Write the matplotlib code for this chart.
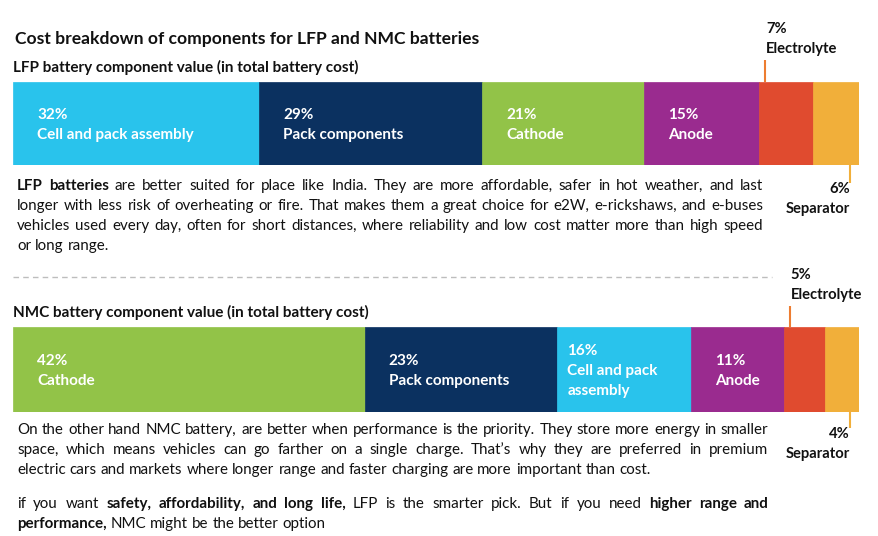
import matplotlib
matplotlib.use("Agg")
import matplotlib.pyplot as plt

plt.rcParams['font.family'] = ['Lato', 'DejaVu Sans']

W, H = 879, 536

# data
title = "Cost breakdown of components for LFP and NMC batteries"
lfp_title = "LFP battery component value (in total battery cost)"
nmc_title = "NMC battery component value (in total battery cost)"

lfp_parts = ["Cell and pack assembly", "Pack components", "Cathode", "Anode", "Electrolyte", "Separator"]
lfp_values = [32, 29, 21, 15, 7, 6]
lfp_colors = ["#29C3EC", "#0B3160", "#92C348", "#9A2B8F", "#E04B2F", "#F1AF3A"]

nmc_parts = ["Cathode", "Pack components", "Cell and pack\nassembly", "Anode", "Electrolyte", "Separator"]
nmc_values = [42, 23, 16, 11, 5, 4]
nmc_colors = ["#92C348", "#0B3160", "#29C3EC", "#9A2B8F", "#E04B2F", "#F1AF3A"]

lfp_text = [
    [("LFP batteries", True), (" are better suited for place like India. They are more affordable, safer in hot weather, and last", False)],
    [("longer with less risk of overheating or fire. That makes them a great choice for e2W, e-rickshaws, and e-buses", False)],
    [("vehicles used every day, often for short distances, where reliability and low cost matter more than high speed", False)],
    [("or long range.", False)],
]
nmc_text = [
    [("On the other hand NMC battery, are better when performance is the priority. They store more energy in smaller", False)],
    [("space, which means vehicles can go farther on a single charge. That\u2019s why they are preferred in premium", False)],
    [("electric cars and markets where longer range and faster charging are more important than cost.", False)],
]
end_text = [
    [("if you want ", False), ("safety, affordability, and long life,", True), (" LFP is the smarter pick. But if you need ", False), ("higher range and", True)],
    [("performance,", True), (" NMC might be the better option", False)],
]

fig = plt.figure(figsize=(W / 100, H / 100), dpi=100)
fig.patch.set_facecolor("white")
pix = fig.add_axes([0, 0, 1, 1], zorder=10)
pix.set_xlim(0, W)
pix.set_ylim(H, 0)
pix.axis("off")
pix.patch.set_alpha(0)
renderer = fig.canvas.get_renderer()

TXT = "#111111"
BODY = 10.9


def word_width(word, size, bold):
    t = pix.text(0, 0, word, fontsize=size, fontweight="bold" if bold else "normal")
    w = t.get_window_extent(renderer).width
    t.remove()
    return w


def paragraph(lines, x0, x1, baselines, size, justify_last=False):
    space = word_width("a a", size, False) - 2 * word_width("a", size, False)
    for i, line in enumerate(lines):
        words = []
        for seg, bold in line:
            for w in seg.split(" "):
                if w:
                    words.append((w, bold))
        widths = [word_width(w, size, b) for w, b in words]
        last = i == len(lines) - 1
        if last and not justify_last:
            gap = space
        else:
            gap = (x1 - x0 - sum(widths)) / (len(words) - 1)
        x = x0
        for (w, b), ww in zip(words, widths):
            pix.text(x, baselines[i], w, fontsize=size, fontweight="bold" if b else "normal",
                     color=TXT, va="baseline", ha="left")
            x += ww + gap


def stacked_bar(top, bottom, parts, values, colors, elec_line, sep_line):
    ax = fig.add_axes([13 / W, (H - bottom) / H, 846 / W, (bottom - top) / H])
    total = sum(values)
    lefts = [sum(values[:i]) for i in range(len(values))]
    ax.barh(0, values, left=lefts, height=1, color=colors, edgecolor=colors, linewidth=0.5)
    ax.set_xlim(0, total)
    ax.set_ylim(-0.5, 0.5)
    ax.axis("off")
    fig.canvas.draw()
    to_px = lambda v: ax.transData.transform((v, 0))[0]
    mid = (top + bottom) / 2
    # labels inside the four large segments
    for name, val, left in zip(parts[:4], values[:4], lefts[:4]):
        lines = ["%d%%" % val] + name.split("\n")
        off = 10 if len(lines) > 2 else 24
        for j, s in enumerate(lines):
            y = mid + 20 * (j - (len(lines) - 1) / 2) + 5.5
            pix.text(to_px(left) + off, y, s, fontsize=11, fontweight="bold",
                     color="white", va="baseline", ha="left")
    # electrolyte callout above
    xe = to_px(lefts[4]) + 6
    pix.plot([xe, xe], [top - elec_line, top], color="#ED7D31", lw=1.5, solid_capstyle="butt")
    for j, s in enumerate(["%d%%" % values[4], parts[4]]):
        pix.text(xe + 1, top - elec_line - 27 + 20 * j, s, fontsize=10.6, fontweight="bold",
                 color=TXT, va="baseline", ha="left")
    # separator callout below
    xs = to_px(total) - 9
    pix.plot([xs, xs], [bottom, bottom + sep_line], color="#F1AF3A", lw=1.5, solid_capstyle="butt")
    for j, s in enumerate(["%d%%" % values[5], parts[5]]):
        pix.text(xs, bottom + sep_line + 10 + 20 * j, s, fontsize=10.6, fontweight="bold",
                 color=TXT, va="baseline", ha="right")


pix.text(15, 44, title, fontsize=12.6, fontweight="bold", color=TXT, va="baseline")
pix.text(13, 72, lfp_title, fontsize=11, fontweight="bold", color=TXT, va="baseline")
stacked_bar(82, 165, lfp_parts, lfp_values, lfp_colors, 22, 18)
paragraph(lfp_text, 17, 763, [190, 210, 230, 250], BODY)

pix.plot([13, 772], [277, 277], color="#BDBDBD", lw=1, ls=(0, (4, 3)))

pix.text(13, 317, nmc_title, fontsize=11, fontweight="bold", color=TXT, va="baseline")
stacked_bar(327, 412, nmc_parts, nmc_values, nmc_colors, 21, 16)
paragraph(nmc_text, 17, 768, [434, 454, 474], BODY)
paragraph(end_text, 17, 769, [508, 528], BODY)

fig.savefig("out.png", dpi=100, facecolor="white")
